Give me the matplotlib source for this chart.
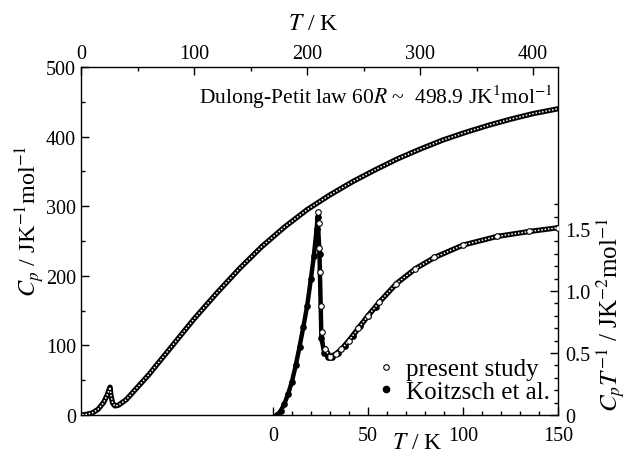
import matplotlib
matplotlib.use("Agg")
import matplotlib.pyplot as plt
import numpy as np

plt.rcParams['font.family'] = ['Liberation Serif', 'DejaVu Serif']
plt.rcParams['mathtext.fontset'] = 'stix'
plt.rcParams['font.size'] = 14.5

# Cp vs T (upper T axis, left Cp axis), present study
cp_T = [1, 5, 10, 15, 20, 23, 25, 25.7, 26.5, 28, 30, 33, 40, 50, 60, 80, 100,
        120, 140, 160, 180, 200, 220, 240, 260, 280, 300, 320, 340, 360, 380, 400, 422]
cp_val = [0, 1, 3, 8, 18, 28, 37, 40, 28, 17, 13, 14, 22, 40, 58, 98, 138,
          175, 210, 242, 270, 295, 316, 335, 352, 368, 382, 395, 406, 416, 425, 433, 440]

# Cp/T vs T (lower T axis, right axis), present study
ct_T = [2, 5, 8, 10, 13, 16, 19, 21, 22.5, 23.2, 23.7, 24.0, 24.4, 24.7, 25.2, 26,
        27.5, 30, 33, 36, 40, 45, 50, 56, 65, 75, 85, 100, 118, 135, 150]
ct_val = [0, 0.05, 0.15, 0.27, 0.48, 0.75, 1.0, 1.2, 1.38, 1.52, 1.64, 1.55, 1.35, 1.15, 0.88, 0.67,
          0.53, 0.47, 0.49, 0.53, 0.6, 0.7, 0.8, 0.91, 1.06, 1.18, 1.27, 1.37, 1.44, 1.48, 1.51]

# Koitzsch et al.
k_T = [2, 4, 6, 8, 10, 12, 14, 16, 18, 20, 21.5, 23, 23.5, 24.5, 25.5, 27, 29, 31, 34, 38, 42, 46, 50, 54]
k_val = [0, 0.03, 0.09, 0.17, 0.27, 0.4, 0.55, 0.71, 0.88, 1.1, 1.28, 1.5, 1.6, 1.3, 0.62,
         0.5, 0.47, 0.47, 0.5, 0.56, 0.64, 0.72, 0.8, 0.87]

fig = plt.figure(figsize=(6.27, 4.60), dpi=100)
rect = [81/627, 1-416/460, 477/627, 348/460]
ax = fig.add_axes(rect)
ax2 = fig.add_axes(rect, frameon=False)

# upper curve: chain of open circles
ax.plot(cp_T, cp_val, color='black', lw=3.8, solid_capstyle='round', zorder=2)
ax.plot(cp_T, cp_val, color='white', lw=1.1, ls=(0, (1, 1.2)), zorder=3)
ax.set_xlim(0, 422)
ax.set_ylim(0, 500)
ax.xaxis.tick_top()
ax.set_xticks([0, 100, 200, 300, 400])
ax.set_xticks(np.arange(50, 422, 100), minor=True)
ax.set_yticks([0, 100, 200, 300, 400, 500])
ax.set_yticks(np.arange(50, 500, 100), minor=True)
ax.tick_params(which='both', direction='in', top=True, bottom=False, left=True, right=False)
ax.tick_params(which='major', length=6, width=1)
ax.tick_params(which='minor', length=3, width=1)
ax.tick_params(axis='x', pad=3)

# lower curve
n_drop = 10
ax2.plot(k_T, k_val, color='black', lw=3.2, zorder=2)
ax2.plot(k_T, k_val, 'o', ms=3.8, color='black', zorder=2)
ax2.plot(ct_T, ct_val, color='black', lw=0.7, zorder=3)
ax2.plot(ct_T[n_drop:], ct_val[n_drop:], 'o', ms=4, mfc='white', mec='black', mew=0.8, zorder=4)
ax2.plot(ct_T[16:], ct_val[16:], color='black', lw=3.8, zorder=3)
ax2.plot(ct_T[16:], ct_val[16:], color='white', lw=1.1, ls=(0, (1, 1.2)), zorder=4)
ax2.set_xlim(-101, 150)
ax2.set_ylim(0, 2.806)
ax2.yaxis.tick_right()
ax2.set_xticks([0, 50, 100, 150])
ax2.set_xticks(np.arange(10, 150, 10), minor=True)
ax2.set_yticks([0, 0.5, 1.0, 1.5])
ax2.set_yticklabels(['0', '0.5', '1.0', '1.5'])
ax2.set_yticks(np.arange(0.1, 1.75, 0.1), minor=True)
ax2.tick_params(which='both', direction='in', top=False, bottom=True, left=False, right=True)
ax2.tick_params(which='major', length=6, width=1)
ax2.tick_params(which='minor', length=3, width=1)
ax2.tick_params(axis='x', pad=8)
ax2.tick_params(axis='y', pad=5)

for sp in ax.spines.values():
    sp.set_linewidth(1.0)

# labels
ax.text(0.486, 1.124, '$T$ / K', transform=ax.transAxes, ha='center', va='center', fontsize=17)
ax2.text(0.704, -0.078, '$T$ / K', transform=ax2.transAxes, ha='center', va='center', fontsize=17)
ax.text(-0.107, 0.56, '$C_p$ / JK$^{-1}$mol$^{-1}$', transform=ax.transAxes,
        rotation=90, ha='center', va='center', fontsize=17.5)
ax2.text(1.112, 0.29, '$C_pT^{-1}$ / JK$^{-2}$mol$^{-1}$', transform=ax2.transAxes,
         rotation=90, ha='center', va='center', fontsize=18)
ax.text(0.99, 0.917, 'Dulong-Petit law 60$R$ ~  498.9 JK$^{\\mathregular{1}}$mol$^{-1}$',
        transform=ax.transAxes, ha='right', va='center', fontsize=15.5)

h1, = ax2.plot([], [], 'o', ms=4, mfc='white', mec='black', mew=0.8)
h2, = ax2.plot([], [], 'o', ms=4.5, color='black')
ax2.legend([h1, h2], ['present study', 'Koitzsch et al.'], loc='lower right',
           bbox_to_anchor=(0.982, 0.035), frameon=False, handlelength=0.6,
           handletextpad=0.5, labelspacing=0.0, borderaxespad=0, borderpad=0,
           fontsize=18)

fig.savefig('out.png', dpi=100)
